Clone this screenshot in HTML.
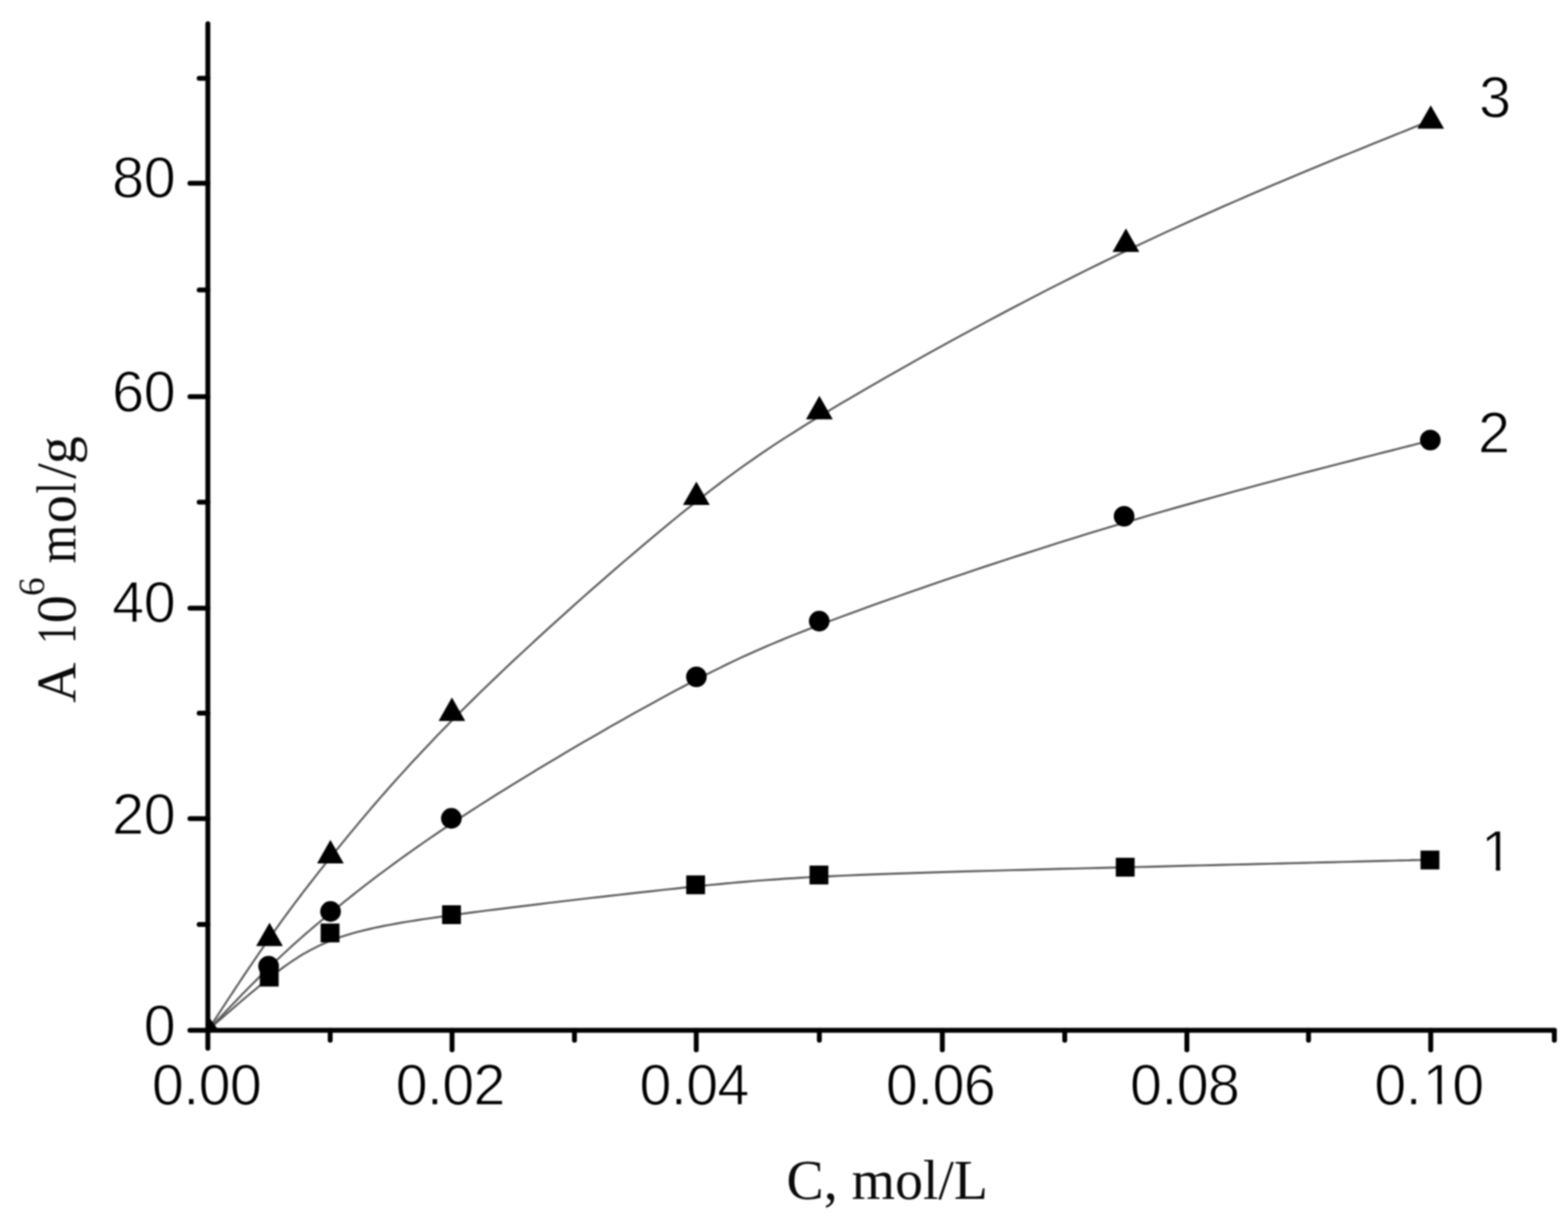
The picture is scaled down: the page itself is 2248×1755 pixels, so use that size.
<!DOCTYPE html>
<html lang="en"><head><meta charset="utf-8">
<style>html,body{margin:0;padding:0;background:#fff}body{width:2248px;height:1755px;overflow:hidden}svg{display:block}.t{font-family:'Liberation Sans', sans-serif;font-size:82.5px;fill:#000;stroke:#fff;stroke-width:1.3px;stroke-linejoin:round}.s{font-family:'Liberation Serif', serif;font-size:80px;fill:#0a0a0a}</style></head><body>
<svg width="2248" height="1755" viewBox="0 0 2248 1755">
<rect width="2248" height="1755" fill="#fff"/>
<defs><filter id="soft" x="0" y="0" width="2248" height="1755" filterUnits="userSpaceOnUse" color-interpolation-filters="sRGB"><feGaussianBlur stdDeviation="0.80"/></filter></defs>
<g filter="url(#soft)">
<rect width="2248" height="1755" fill="#fff"/>
<g fill="none" stroke="#5c5c5c" stroke-width="2.9" stroke-linecap="round" stroke-linejoin="round">
<path d="M298.0,1477.3 L298.0,1477.3 L298.0,1477.3 L298.0,1477.3 L298.1,1477.2 L298.1,1477.2 L298.2,1477.1 L298.4,1477.0 L298.5,1476.8 L298.8,1476.6 L299.1,1476.4 L299.4,1476.1 L299.8,1475.7 L300.3,1475.3 L300.9,1474.7 L301.6,1474.2 L302.3,1473.5 L303.2,1472.7 L304.2,1471.9 L305.3,1470.9 L306.5,1469.9 L307.8,1468.7 L309.3,1467.4 L310.9,1466.0 L312.6,1464.5 L314.5,1462.8 L316.6,1461.0 L318.8,1459.1 L321.1,1457.0 L323.5,1454.9 L326.1,1452.6 L328.8,1450.3 L331.6,1447.9 L334.5,1445.4 L337.4,1442.8 L340.5,1440.2 L343.7,1437.5 L346.9,1434.7 L350.2,1431.9 L353.6,1429.0 L357.0,1426.2 L360.5,1423.2 L364.0,1420.3 L367.6,1417.4 L371.2,1414.4 L374.8,1411.5 L378.4,1408.5 L382.1,1405.6 L385.7,1402.7 L389.4,1399.8 L393.0,1396.9 L396.7,1394.1 L400.4,1391.3 L404.1,1388.5 L407.9,1385.8 L411.7,1383.1 L415.5,1380.4 L419.4,1377.7 L423.3,1375.2 L427.3,1372.6 L431.4,1370.1 L435.5,1367.6 L439.8,1365.2 L444.1,1362.8 L448.5,1360.5 L453.0,1358.2 L457.6,1356.0 L462.3,1353.8 L467.2,1351.7 L472.1,1349.6 L477.2,1347.6 L482.5,1345.6 L487.9,1343.7 L493.4,1341.9 L499.1,1340.1 L504.9,1338.4 L511.0,1336.7 L517.1,1335.1 L523.5,1333.5 L530.1,1332.0 L536.8,1330.4 L543.8,1329.0 L551.0,1327.5 L558.4,1326.1 L566.0,1324.7 L573.8,1323.3 L581.9,1321.9 L590.2,1320.6 L598.8,1319.2 L607.6,1317.9 L616.7,1316.6 L626.0,1315.2 L635.6,1313.9 L645.5,1312.5 L655.7,1311.1 L666.2,1309.7 L677.0,1308.3 L688.0,1306.9 L699.4,1305.4 L711.0,1304.0 L722.9,1302.5 L734.9,1301.0 L747.2,1299.5 L759.6,1298.0 L772.1,1296.5 L784.7,1294.9 L797.4,1293.4 L810.2,1291.9 L822.9,1290.4 L835.7,1288.9 L848.5,1287.4 L861.2,1286.0 L873.8,1284.5 L886.4,1283.1 L898.8,1281.7 L911.1,1280.3 L923.1,1279.0 L935.0,1277.7 L946.7,1276.4 L958.1,1275.1 L969.2,1274.0 L980.1,1272.8 L990.6,1271.7 L1000.9,1270.6 L1011.1,1269.6 L1021.0,1268.6 L1030.8,1267.7 L1040.5,1266.7 L1050.1,1265.9 L1059.6,1265.0 L1069.1,1264.2 L1078.7,1263.4 L1088.3,1262.6 L1097.9,1261.9 L1107.7,1261.2 L1117.6,1260.5 L1127.7,1259.8 L1138.0,1259.2 L1148.5,1258.5 L1159.3,1257.9 L1170.4,1257.3 L1181.8,1256.8 L1193.6,1256.2 L1205.7,1255.6 L1218.3,1255.1 L1231.4,1254.5 L1244.8,1254.0 L1258.7,1253.5 L1273.0,1253.0 L1287.7,1252.5 L1302.7,1252.0 L1318.1,1251.5 L1333.7,1251.0 L1349.7,1250.5 L1366.0,1250.0 L1382.6,1249.5 L1399.3,1249.0 L1416.4,1248.6 L1433.6,1248.1 L1451.0,1247.6 L1468.6,1247.2 L1486.3,1246.7 L1504.2,1246.3 L1522.1,1245.8 L1540.2,1245.4 L1558.3,1244.9 L1576.5,1244.5 L1594.8,1244.0 L1613.0,1243.6 L1631.3,1243.1 L1649.5,1242.7 L1667.6,1242.2 L1685.7,1241.8 L1703.6,1241.3 L1721.4,1240.9 L1739.0,1240.5 L1756.3,1240.0 L1773.4,1239.6 L1790.2,1239.2 L1806.7,1238.8 L1822.9,1238.4 L1838.6,1238.0 L1854.0,1237.6 L1868.9,1237.2 L1883.3,1236.9 L1897.2,1236.5 L1910.6,1236.2 L1923.4,1235.9 L1935.7,1235.6 L1947.2,1235.3 L1958.2,1235.0 L1968.4,1234.8 L1977.9,1234.5 L1986.6,1234.3 L1994.6,1234.1 L2001.9,1233.9 L2008.6,1233.8 L2014.6,1233.6 L2020.0,1233.5 L2024.9,1233.3 L2029.2,1233.2 L2033.0,1233.1 L2036.3,1233.1 L2039.2,1233.0 L2041.7,1232.9 L2043.8,1232.9 L2045.5,1232.8 L2047.0,1232.8 L2048.1,1232.8 L2049.0,1232.7 L2049.7,1232.7 L2050.1,1232.7 L2050.5,1232.7 L2050.7,1232.7 L2050.8,1232.7 L2050.8,1232.7 L2050.8,1232.7"/>
<path d="M298.0,1477.3 L298.0,1477.3 L298.0,1477.3 L298.0,1477.3 L298.1,1477.2 L298.1,1477.2 L298.2,1477.1 L298.4,1476.9 L298.5,1476.7 L298.8,1476.5 L299.1,1476.2 L299.4,1475.8 L299.8,1475.4 L300.3,1474.8 L300.9,1474.2 L301.6,1473.5 L302.3,1472.7 L303.2,1471.8 L304.2,1470.8 L305.3,1469.7 L306.5,1468.4 L307.8,1467.0 L309.3,1465.4 L310.9,1463.7 L312.6,1461.9 L314.5,1459.9 L316.6,1457.7 L318.8,1455.4 L321.1,1453.0 L323.5,1450.4 L326.1,1447.7 L328.8,1444.9 L331.6,1442.0 L334.5,1439.0 L337.4,1435.9 L340.5,1432.7 L343.7,1429.4 L346.9,1426.1 L350.2,1422.7 L353.6,1419.3 L357.0,1415.8 L360.5,1412.3 L364.0,1408.7 L367.6,1405.1 L371.2,1401.6 L374.8,1398.0 L378.4,1394.4 L382.1,1390.8 L385.7,1387.2 L389.4,1383.7 L393.0,1380.2 L396.7,1376.7 L400.4,1373.2 L404.1,1369.7 L407.9,1366.2 L411.7,1362.7 L415.5,1359.2 L419.4,1355.7 L423.3,1352.2 L427.3,1348.6 L431.4,1345.0 L435.5,1341.4 L439.8,1337.7 L444.1,1334.0 L448.5,1330.2 L453.0,1326.4 L457.6,1322.5 L462.3,1318.6 L467.2,1314.5 L472.1,1310.4 L477.2,1306.3 L482.5,1302.0 L487.9,1297.6 L493.4,1293.2 L499.1,1288.6 L504.9,1284.0 L511.0,1279.2 L517.1,1274.4 L523.5,1269.4 L530.1,1264.4 L536.8,1259.2 L543.8,1253.9 L551.0,1248.6 L558.4,1243.1 L566.0,1237.5 L573.8,1231.8 L581.9,1226.0 L590.2,1220.1 L598.8,1214.0 L607.6,1207.9 L616.7,1201.6 L626.0,1195.2 L635.6,1188.7 L645.5,1182.1 L655.7,1175.3 L666.2,1168.5 L677.0,1161.5 L688.0,1154.4 L699.4,1147.2 L711.0,1139.8 L722.9,1132.4 L734.9,1125.0 L747.2,1117.5 L759.6,1109.9 L772.1,1102.3 L784.7,1094.7 L797.4,1087.2 L810.2,1079.6 L822.9,1072.1 L835.7,1064.6 L848.5,1057.2 L861.2,1049.9 L873.8,1042.6 L886.4,1035.5 L898.8,1028.5 L911.1,1021.6 L923.1,1014.9 L935.0,1008.4 L946.7,1002.0 L958.1,995.8 L969.2,989.8 L980.1,984.1 L990.6,978.5 L1000.9,973.2 L1011.1,968.0 L1021.0,963.0 L1030.8,958.2 L1040.5,953.4 L1050.1,948.8 L1059.6,944.3 L1069.1,939.9 L1078.7,935.6 L1088.3,931.4 L1097.9,927.2 L1107.7,923.0 L1117.6,918.8 L1127.7,914.7 L1138.0,910.5 L1148.5,906.3 L1159.3,902.1 L1170.4,897.8 L1181.8,893.5 L1193.6,889.0 L1205.7,884.5 L1218.3,879.9 L1231.4,875.1 L1244.8,870.2 L1258.7,865.2 L1273.0,860.1 L1287.7,855.0 L1302.7,849.7 L1318.1,844.3 L1333.7,838.9 L1349.7,833.4 L1366.0,827.9 L1382.6,822.3 L1399.3,816.7 L1416.4,811.0 L1433.6,805.3 L1451.0,799.7 L1468.6,794.0 L1486.3,788.3 L1504.2,782.6 L1522.1,776.9 L1540.2,771.3 L1558.3,765.7 L1576.5,760.1 L1594.8,754.6 L1613.0,749.1 L1631.3,743.8 L1649.5,738.4 L1667.6,733.2 L1685.7,728.0 L1703.6,723.0 L1721.4,718.0 L1739.0,713.1 L1756.3,708.3 L1773.4,703.7 L1790.2,699.1 L1806.7,694.7 L1822.9,690.4 L1838.6,686.2 L1854.0,682.1 L1868.9,678.2 L1883.3,674.5 L1897.2,670.8 L1910.6,667.4 L1923.4,664.1 L1935.7,661.0 L1947.2,658.0 L1958.2,655.2 L1968.4,652.6 L1977.9,650.2 L1986.6,648.0 L1994.6,646.0 L2001.9,644.1 L2008.6,642.4 L2014.6,640.9 L2020.0,639.5 L2024.9,638.3 L2029.2,637.2 L2033.0,636.2 L2036.3,635.4 L2039.2,634.6 L2041.7,634.0 L2043.8,633.5 L2045.5,633.0 L2047.0,632.7 L2048.1,632.4 L2049.0,632.2 L2049.7,632.0 L2050.1,631.9 L2050.5,631.8 L2050.7,631.7 L2050.8,631.7 L2050.8,631.7 L2050.8,631.7"/>
<path d="M298.0,1477.3 L298.0,1477.3 L298.0,1477.3 L298.0,1477.3 L298.1,1477.2 L298.1,1477.1 L298.2,1477.0 L298.4,1476.7 L298.5,1476.5 L298.8,1476.1 L299.1,1475.7 L299.4,1475.1 L299.8,1474.5 L300.3,1473.7 L300.9,1472.9 L301.6,1471.8 L302.3,1470.7 L303.2,1469.3 L304.2,1467.9 L305.3,1466.2 L306.5,1464.3 L307.8,1462.3 L309.3,1460.1 L310.9,1457.6 L312.6,1454.9 L314.5,1452.0 L316.6,1448.9 L318.8,1445.5 L321.1,1442.0 L323.5,1438.2 L326.1,1434.3 L328.8,1430.2 L331.6,1426.0 L334.5,1421.6 L337.4,1417.1 L340.5,1412.5 L343.7,1407.7 L346.9,1402.9 L350.2,1397.9 L353.6,1392.9 L357.0,1387.8 L360.5,1382.7 L364.0,1377.5 L367.6,1372.3 L371.2,1367.0 L374.8,1361.8 L378.4,1356.5 L382.1,1351.3 L385.7,1346.0 L389.4,1340.8 L393.0,1335.7 L396.7,1330.5 L400.4,1325.3 L404.1,1320.2 L407.9,1315.0 L411.7,1309.8 L415.5,1304.6 L419.4,1299.4 L423.3,1294.2 L427.3,1288.8 L431.4,1283.5 L435.5,1278.0 L439.8,1272.6 L444.1,1267.0 L448.5,1261.3 L453.0,1255.6 L457.6,1249.7 L462.3,1243.8 L467.2,1237.7 L472.1,1231.5 L477.2,1225.2 L482.5,1218.7 L487.9,1212.1 L493.4,1205.3 L499.1,1198.4 L504.9,1191.3 L511.0,1184.1 L517.1,1176.7 L523.5,1169.1 L530.1,1161.4 L536.8,1153.5 L543.8,1145.4 L551.0,1137.2 L558.4,1128.8 L566.0,1120.3 L573.8,1111.6 L581.9,1102.7 L590.2,1093.6 L598.8,1084.4 L607.6,1075.0 L616.7,1065.4 L626.0,1055.6 L635.6,1045.7 L645.5,1035.5 L655.7,1025.2 L666.2,1014.8 L677.0,1004.1 L688.0,993.2 L699.4,982.2 L711.0,971.1 L722.9,959.8 L734.9,948.4 L747.2,937.0 L759.6,925.5 L772.1,913.9 L784.7,902.4 L797.4,890.9 L810.2,879.4 L822.9,867.9 L835.7,856.5 L848.5,845.2 L861.2,834.1 L873.8,823.1 L886.4,812.2 L898.8,801.5 L911.1,791.1 L923.1,780.8 L935.0,770.8 L946.7,761.1 L958.1,751.7 L969.2,742.5 L980.1,733.7 L990.6,725.3 L1000.9,717.1 L1011.1,709.1 L1021.0,701.4 L1030.8,694.0 L1040.5,686.7 L1050.1,679.6 L1059.6,672.7 L1069.1,665.9 L1078.7,659.2 L1088.3,652.5 L1097.9,646.0 L1107.7,639.4 L1117.6,632.9 L1127.7,626.4 L1138.0,619.9 L1148.5,613.2 L1159.3,606.6 L1170.4,599.8 L1181.8,592.9 L1193.6,585.8 L1205.7,578.6 L1218.3,571.2 L1231.4,563.5 L1244.8,555.7 L1258.7,547.7 L1273.0,539.5 L1287.7,531.2 L1302.7,522.7 L1318.1,514.0 L1333.7,505.3 L1349.7,496.4 L1366.0,487.5 L1382.6,478.5 L1399.3,469.4 L1416.4,460.3 L1433.6,451.1 L1451.0,441.9 L1468.6,432.7 L1486.3,423.5 L1504.2,414.3 L1522.1,405.2 L1540.2,396.1 L1558.3,387.0 L1576.5,378.1 L1594.8,369.2 L1613.0,360.4 L1631.3,351.7 L1649.5,343.2 L1667.6,334.8 L1685.7,326.5 L1703.6,318.4 L1721.4,310.4 L1739.0,302.6 L1756.3,294.9 L1773.4,287.5 L1790.2,280.2 L1806.7,273.1 L1822.9,266.2 L1838.6,259.6 L1854.0,253.1 L1868.9,246.9 L1883.3,240.9 L1897.2,235.2 L1910.6,229.7 L1923.4,224.4 L1935.7,219.5 L1947.2,214.8 L1958.2,210.4 L1968.4,206.2 L1977.9,202.4 L1986.6,198.9 L1994.6,195.6 L2001.9,192.7 L2008.6,190.0 L2014.6,187.6 L2020.0,185.4 L2024.9,183.4 L2029.2,181.7 L2033.0,180.2 L2036.3,178.8 L2039.2,177.7 L2041.7,176.7 L2043.8,175.8 L2045.5,175.1 L2047.0,174.6 L2048.1,174.1 L2049.0,173.7 L2049.7,173.5 L2050.1,173.3 L2050.5,173.1 L2050.7,173.1 L2050.8,173.0 L2050.8,173.0 L2050.8,173.0"/>
</g>
<g stroke="#000" stroke-width="7.0" stroke-linecap="round" fill="none">
<path d="M298.0,34.0 V1503.0"/>
<path d="M272.3,1477.3 H2228.4"/>
</g>
<g stroke="#000" stroke-width="7.0" stroke-linecap="round" fill="none">
<path d="M285.5,1325.5 H298.0"/>
<path d="M272.3,1173.7 H298.0"/>
<path d="M285.5,1022.5 H298.0"/>
<path d="M272.3,871.9 H298.0"/>
<path d="M285.5,720.0 H298.0"/>
<path d="M272.3,568.7 H298.0"/>
<path d="M285.5,415.8 H298.0"/>
<path d="M272.3,262.8 H298.0"/>
<path d="M285.5,112.3 H298.0"/>
<path d="M473.4,1477.3 V1491.5"/>
<path d="M648.1,1477.3 V1505.3"/>
<path d="M823.6,1477.3 V1491.5"/>
<path d="M998.2,1477.3 V1505.3"/>
<path d="M1174.7,1477.3 V1491.5"/>
<path d="M1351.0,1477.3 V1505.3"/>
<path d="M1526.5,1477.3 V1491.5"/>
<path d="M1701.6,1477.3 V1505.3"/>
<path d="M1876.0,1477.3 V1491.5"/>
<path d="M2051.2,1477.3 V1505.3"/>
<path d="M2228.4,1477.3 V1491.5"/>
</g>
<g fill="#000">
<path d="M298.0,1456.3 L313.5,1477.3 L298.0,1477.3 Z"/>
<rect x="372.5" y="1387.5" width="27" height="27"/>
<rect x="459.7" y="1324.2" width="27" height="27"/>
<rect x="633.8" y="1298.0" width="27" height="27"/>
<rect x="983.8" y="1255.2" width="27" height="27"/>
<rect x="1160.6" y="1241.1" width="27" height="27"/>
<rect x="1599.7" y="1229.9" width="27" height="27"/>
<rect x="2036.6" y="1219.6" width="27" height="27"/>
<circle cx="385.1" cy="1385.2" r="14.8"/>
<circle cx="473.9" cy="1306.9" r="14.8"/>
<circle cx="647.1" cy="1173.4" r="14.8"/>
<circle cx="998.4" cy="970.5" r="14.8"/>
<circle cx="1174.5" cy="890.6" r="14.8"/>
<circle cx="1611.6" cy="740.3" r="14.8"/>
<circle cx="2050.6" cy="631.0" r="14.8"/>
<path d="M386.4,1322.9 L405.5,1356.5 L367.2,1356.5 Z"/>
<path d="M473.7,1204.3 L492.8,1237.9 L454.6,1237.9 Z"/>
<path d="M647.9,1000.1 L667.0,1033.7 L628.8,1033.7 Z"/>
<path d="M998.4,690.4 L1017.5,724.0 L979.2,724.0 Z"/>
<path d="M1174.7,567.6 L1193.9,601.2 L1155.5,601.2 Z"/>
<path d="M1614.2,327.6 L1633.4,361.2 L1595.0,361.2 Z"/>
<path d="M2051.2,151.0 L2070.3,184.6 L2032.0,184.6 Z"/>
</g>
<text class="t" x="206.0" y="1499.2">0</text>
<text class="t" x="160.7 206.0" y="1195.5">20</text>
<text class="t" x="160.7 206.0" y="892.0">40</text>
<text class="t" x="160.7 206.0" y="589.6">60</text>
<text class="t" x="160.7 206.0" y="283.1">80</text>
<text class="t" x="217.8 262.7 284.7 329.4" y="1584.4">0.00</text>
<text class="t" x="567.2 612.1 634.1 678.8" y="1584.4">0.02</text>
<text class="t" x="916.8 961.7 983.7 1028.4" y="1584.4">0.04</text>
<text class="t" x="1270.1 1315.0 1337.0 1381.7" y="1584.4">0.06</text>
<text class="t" x="1620.1 1665.0 1687.0 1731.7" y="1584.4">0.08</text>
<text class="t" x="1970.3 2015.2 2039.5 2081.9" y="1584.4">0.10</text>
<rect x="2042.5" y="1576.4" width="18.4" height="9" fill="#fff"/>
<rect x="2067.1" y="1576.4" width="17.0" height="9" fill="#fff"/>
<text class="t" x="2123.2" y="1248.9">1</text>
<rect x="2126.2" y="1240.9" width="18.4" height="9" fill="#fff"/>
<rect x="2150.8" y="1240.9" width="17.0" height="9" fill="#fff"/>
<text class="t" x="2119.1" y="649.0">2</text>
<text class="t" x="2120.4" y="168.2">3</text>
<text class="s" x="1272" y="1718.6" text-anchor="middle">C, mol/L</text>
<text class="s" transform="translate(107.7,1007) rotate(-90)"><tspan x="-0.8 57.8">A </tspan><tspan x="84.0" textLength="28" lengthAdjust="spacingAndGlyphs">1</tspan><tspan x="113.6">0</tspan><tspan x="152.6" dy="-44.5" font-size="53">6</tspan><tspan x="176" dy="44.5"> </tspan><tspan x="199.2" textLength="55.4" lengthAdjust="spacingAndGlyphs">m</tspan><tspan x="257">o</tspan><tspan x="299.4" textLength="15.6" lengthAdjust="spacingAndGlyphs">l</tspan><tspan x="320.5 341.6">/g</tspan></text>
</g>
</svg></body></html>
